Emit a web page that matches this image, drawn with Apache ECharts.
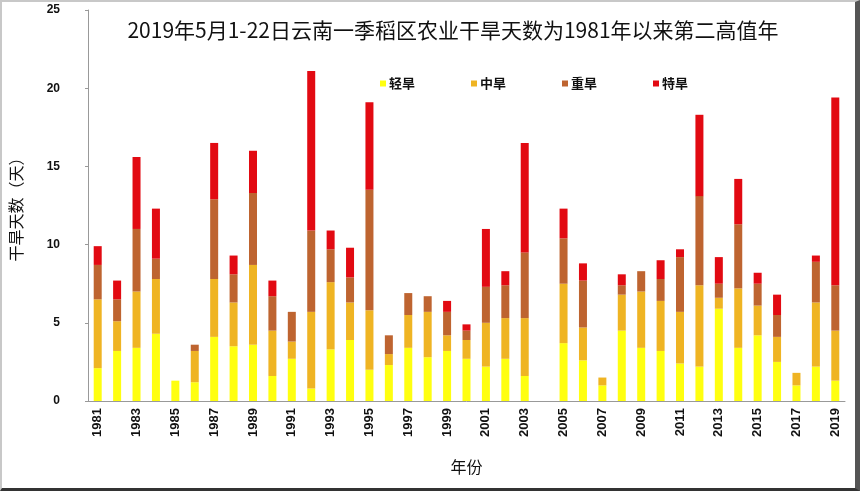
<!DOCTYPE html>
<html><head><meta charset="utf-8">
<script src="https://cdn.jsdelivr.net/npm/echarts@6/dist/echarts.min.js"></script>
<style>
html,body{margin:0;padding:0;background:#fff;}
#wrap{position:relative;width:860px;height:491px;}
#chart{width:860px;height:491px;}
#frame{position:absolute;left:0;top:0;width:860px;height:491px;box-sizing:border-box;border-left:2px solid #c8c8c8;border-top:2px solid #c8c8c8;border-right:5px solid #555;border-bottom:3px solid #333;pointer-events:none;}
</style></head>
<body>
<div id="wrap"><div id="chart"></div><div id="frame"></div></div>
<script>
const years = [];
for (let y = 1981; y <= 2019; y++) years.push(String(y));
const seriesNames = ['轻旱', '中旱', '重旱', '特旱'];
const light =    [2.1,3.2,3.4,4.3,1.3,1.2,4.1,3.5,3.6,1.6,2.7,0.8,3.3,3.9,2.0,2.3,3.4,2.8,3.2,2.7,2.2,2.7,1.6,0,3.7,2.6,1.0,4.5,3.4,3.2,2.4,2.2,5.9,3.4,4.2,2.5,1.0,2.2,1.3];
const moderate = [4.4,1.9,3.6,3.5,0,2.0,3.7,2.8,5.1,2.9,1.1,4.9,4.3,2.4,3.8,0.7,2.1,2.9,1.0,1.2,2.8,2.6,3.7,0,3.8,2.1,0.5,2.3,3.6,3.2,3.3,5.2,0.7,3.8,1.9,1.6,0.8,4.1,3.2];
const severe =   [2.2,1.4,4.0,1.3,0,0.4,5.1,1.8,4.6,2.2,1.9,5.2,2.1,1.6,7.7,1.2,1.4,1.0,1.5,0.6,2.3,2.1,4.2,0,2.9,3.0,0,0.6,1.3,1.4,3.5,5.7,0.9,4.1,1.4,1.4,0,2.6,2.9];
const extreme =  [1.2,1.2,4.6,3.2,0,0,3.6,1.2,2.7,1.0,0,10.2,1.2,1.9,5.6,0,0,0,0.7,0.4,3.7,0.9,7.0,0,1.9,1.1,0,0.7,0,1.2,0.5,5.2,1.7,2.9,0.7,1.3,0,0.4,12.0];
const colors = ['#FFFF10', '#EFB423', '#BE6430', '#E20A12'];
const dataSets = [light, moderate, severe, extreme];

const chart = echarts.init(document.getElementById('chart'), null, {renderer: 'canvas'});
chart.setOption({
  animation: false,
  backgroundColor: '#fff',
  title: {
    text: '2019年5月1-22日云南一季稻区农业干旱天数为1981年以来第二高值年',
    left: 448, top: 15, textAlign: 'center',
    textStyle: {fontSize: 21, fontWeight: 'normal', color: '#111', fontFamily: 'Noto Sans CJK SC'}
  },
  legend: {
    left: 375, top: 72, itemGap: 56, itemWidth: 6, itemHeight: 6, icon: 'rect',
    textStyle: {fontSize: 13, fontWeight: 'bold', color: '#111', fontFamily: 'Noto Sans CJK SC', padding: [0,0,0,-2]},
    data: seriesNames
  },
  grid: {left: 87, right: 15, top: 10, bottom: 90},
  xAxis: {
    type: 'category', data: years,
    name: '年份', nameLocation: 'middle', nameGap: 58,
    nameTextStyle: {fontSize: 16, color: '#111', fontFamily: 'Noto Sans CJK SC'},
    axisLine: {lineStyle: {color: '#999'}},
    axisTick: {inside: true, length: 4, lineStyle: {color: '#999'}},
    axisLabel: {interval: 1, rotate: 90, fontSize: 13, fontWeight: 'bold', color: '#111', margin: 7, fontFamily: 'Liberation Sans'}
  },
  yAxis: {
    type: 'value', min: 0, max: 25, interval: 5,
    name: '干旱天数（天）', nameLocation: 'middle', nameGap: 64, nameRotate: 90,
    nameTextStyle: {fontSize: 16, color: '#111', fontFamily: 'Noto Sans CJK SC'},
    axisLine: {show: true, lineStyle: {color: '#999'}},
    axisTick: {show: true, length: 3, lineStyle: {color: '#999'}},
    splitLine: {show: false},
    axisLabel: {fontSize: 12, fontWeight: 'bold', color: '#111', margin: 28, fontFamily: 'Liberation Sans'}
  },
  series: seriesNames.map((n, i) => ({
    name: n, type: 'bar', stack: 'total', barWidth: 8,
    itemStyle: {color: colors[i]},
    data: dataSets[i]
  }))
});
</script>
</body></html>
